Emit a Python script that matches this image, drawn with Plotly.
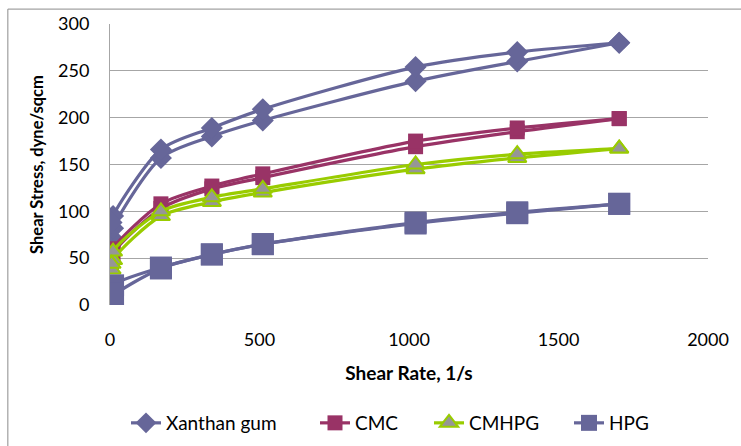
import plotly.graph_objects as go

# Shear rates (1/s) for the ascending and descending ramps
shear_rate_up = [5.11, 10.22, 170.3, 340.6, 511, 1022, 1362, 1703]
shear_rate_down = [1703, 1362, 1022, 511, 340.6, 170.3, 10.22, 5.11]

# Shear stress (dyne/sqcm)
xanthan_up = [72, 82, 157, 180, 197, 239, 260, 280]
xanthan_down = [280, 270, 254, 209, 189, 166, 95, 88]
cmc_up = [45, 55, 103, 124, 136, 169, 185, 199]
cmc_down = [199, 189, 175, 140, 127, 108, 60, 52]
cmhpg_up = [38, 48, 95, 110, 120, 145, 157, 167]
cmhpg_down = [167, 161, 150, 124, 115, 100, 57, 44]
hpg_up = [2, 9, 39, 54, 65, 87, 98, 108]
hpg_down = [108, 99, 88, 65, 54, 40, 21, 12]

series = [
    ("Xanthan gum", xanthan_up, xanthan_down, "#666699",
     dict(symbol="diamond", size=17, color="#666699")),
    ("CMC", cmc_up, cmc_down, "#993366",
     dict(symbol="square", size=15, color="#993366")),
    ("CMHPG", cmhpg_up, cmhpg_down, "#99CC00",
     dict(symbol="triangle-up", size=16, color="#969696",
          line=dict(color="#99CC00", width=2))),
    ("HPG", hpg_up, hpg_down, "#666699",
     dict(symbol="square", size=22, color="#666699")),
]

# left edge (px) of each legend entry along the bottom row
legend_left_px = [126, 315, 429, 569]
legend_ids = ["legend", "legend2", "legend3", "legend4"]

fig = go.Figure()
for (name, up, down, lc, mk), lid in zip(series, legend_ids):
    for i, (xs, ys) in enumerate([(shear_rate_up, up), (shear_rate_down, down)]):
        fig.add_trace(go.Scatter(
            x=xs, y=ys, mode="lines+markers", name=name,
            legend=lid, legendgroup=name, showlegend=(i == 0),
            line=dict(color=lc, width=3.2, shape="spline", smoothing=0.8),
            marker=mk,
        ))

font = "Lato, 'Liberation Sans', sans-serif"
grid = "#A6A6A6"

legend_layout = {}
for lid, px in zip(legend_ids, legend_left_px):
    legend_layout[lid] = dict(
        orientation="h", xref="container", yref="container",
        x=px / 741, xanchor="left", y=1 - 423 / 446, yanchor="middle",
        font=dict(size=19), itemwidth=30, bgcolor="rgba(0,0,0,0)",
    )

fig.update_layout(
    width=741, height=446,
    margin=dict(l=110, r=28, t=22, b=141),
    paper_bgcolor="white", plot_bgcolor="white",
    font=dict(family=font, size=18, color="#000000"),
    showlegend=True,
    **legend_layout,
    xaxis=dict(
        range=[0, 2000], tickvals=[0, 500, 1000, 1500, 2000],
        showgrid=False, zeroline=False, showline=False,
        ticks="", ticklabelstandoff=22,
        title=dict(text="<b>Shear Rate, 1/s</b>", font=dict(size=19), standoff=17),
    ),
    yaxis=dict(
        range=[0, 300], tickvals=[0, 50, 100, 150, 200, 250, 300],
        showgrid=True, gridcolor=grid, gridwidth=1,
        zeroline=False, showline=True, linecolor=grid, linewidth=1,
        ticks="", ticklabelstandoff=16,
        title=dict(text="<b>Shear Stress, dyne/sqcm</b>", font=dict(size=16.5), standoff=10),
    ),
    shapes=[dict(type="rect", xref="paper", yref="paper",
                 x0=-103 / 603, x1=1.2, y0=-1.0, y1=1 + 15 / 283,
                 line=dict(color="#8C8C8C", width=1), layer="below")],
)

fig.write_html("out.html")
